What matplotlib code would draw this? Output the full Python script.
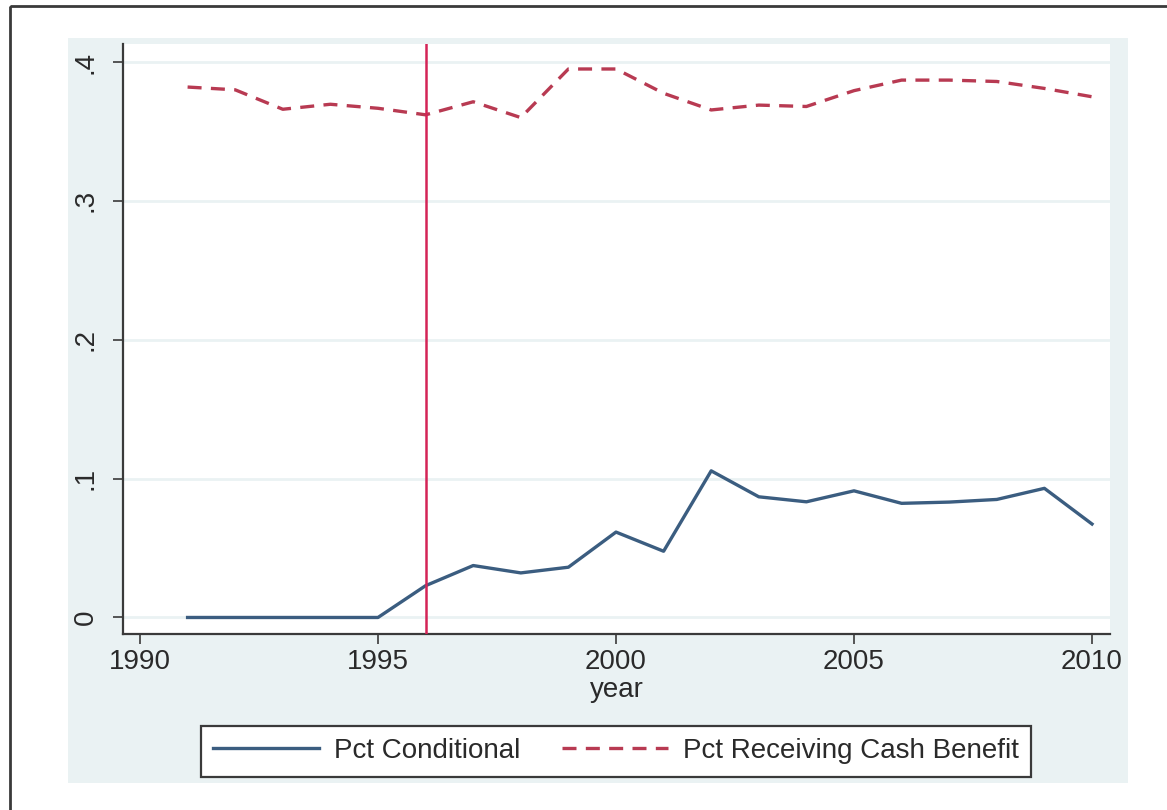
import matplotlib
matplotlib.use("Agg")
import matplotlib.pyplot as plt
from matplotlib.patches import Rectangle
from matplotlib.lines import Line2D

plt.rcParams['font.family'] = ['Liberation Sans', 'DejaVu Sans']

# data
years = list(range(1991, 2011))
pct_conditional = [0.0, 0.0, 0.0, 0.0, 0.0, 0.0229, 0.0374, 0.0321, 0.0362, 0.0615,
                   0.0477, 0.1056, 0.0869, 0.0833, 0.0912, 0.0822, 0.0831, 0.0850,
                   0.0930, 0.0673]
pct_cash = [0.382, 0.380, 0.366, 0.3696, 0.3667, 0.362, 0.3714, 0.360, 0.395, 0.395,
            0.3775, 0.3655, 0.369, 0.368, 0.3794, 0.387, 0.387, 0.386, 0.381, 0.375]
reform_year = 1996
x_ticks = [1990, 1995, 2000, 2005, 2010]
y_ticks = [0, 0.1, 0.2, 0.3, 0.4]
y_ticklabels = ['0', '.1', '.2', '.3', '.4']

W, H = 1167, 810
fig = plt.figure(figsize=(W / 100, H / 100), dpi=100)
fig.patch.set_facecolor('white')

# outer frame (only left/top visible) and the stata graph region
fig.patches.append(Rectangle((10 / W, 1 - 6 / H), 1.2, -1.2, transform=fig.transFigure,
                             fill=False, edgecolor='#3a3a3a', linewidth=2.0, zorder=-2))
fig.patches.append(Rectangle((68 / W, 1 - 783 / H), (1128 - 68) / W, (783 - 38) / H,
                             transform=fig.transFigure, facecolor='#eaf2f3',
                             edgecolor='none', zorder=-1))

ax = fig.add_axes([123 / W, 1 - 634 / H, (1110 - 123) / W, (634 - 44) / H])
ax.set_facecolor('white')

blue = '#3b5d80'
red = '#b83a52'

for yv in y_ticks:
    ax.axhline(yv, color='#eaf2f3', linewidth=2.0, zorder=1)

ax.plot(years, pct_conditional, color=blue, linewidth=2.4, zorder=3,
        label='Pct Conditional')
ax.plot(years, pct_cash, color=red, linewidth=2.4, dashes=(4.2, 2.8), zorder=3,
        label='Pct Receiving Cash Benefit')
ax.axvline(reform_year, color='#d42456', linewidth=1.8, zorder=4)

ax.set_xlim(1989.643, 2010.378)
ax.set_ylim(-0.0119, 0.413)

ax.set_xticks(x_ticks)
ax.set_xticklabels([str(x) for x in x_ticks])
ax.set_yticks(y_ticks)
ax.set_yticklabels(y_ticklabels, rotation=90, va='center')

for s in ['top', 'right']:
    ax.spines[s].set_visible(False)
for s in ['left', 'bottom']:
    ax.spines[s].set_color('#3a3a3a')
    ax.spines[s].set_linewidth(1.6)

ax.tick_params(axis='both', direction='out', length=7.5, width=1.2, color='#3a3a3a',
               labelsize=20, labelcolor='#2a2a2a')
ax.tick_params(axis='y', pad=10)
ax.tick_params(axis='x', pad=3)

ax.set_xlabel('year', fontsize=20, color='#2a2a2a', labelpad=2)

handles = [Line2D([], [], color=blue, linewidth=2.4),
           Line2D([], [], color=red, linewidth=2.4, dashes=(4.2, 2.8))]
leg = fig.legend(handles, ['Pct Conditional', 'Pct Receiving Cash Benefit'],
                 loc='center', bbox_to_anchor=(616 / W, 1 - 751 / H), ncol=2,
                 fontsize=20, frameon=True, fancybox=False, framealpha=1,
                 edgecolor='#3a3a3a', handlelength=3.8, handletextpad=0.55,
                 columnspacing=1.5, borderpad=0.45, labelcolor='#2a2a2a')
leg.get_frame().set_linewidth(1.6)

fig.savefig('out.png', dpi=100, facecolor='white')
